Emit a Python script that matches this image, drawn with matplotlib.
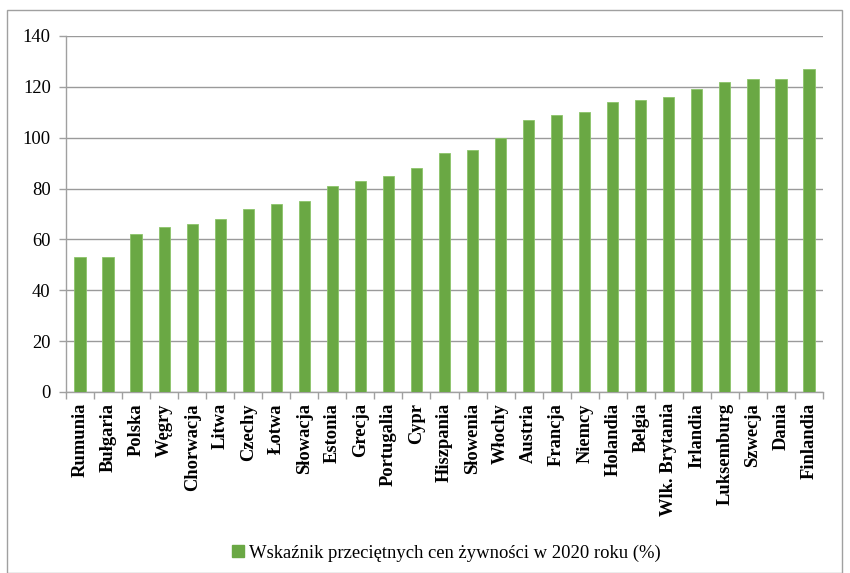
import matplotlib
matplotlib.use("Agg")
import matplotlib.pyplot as plt
from matplotlib.patches import Rectangle
import numpy as np

countries = ["Rumunia", "Bułgaria", "Polska", "Węgry", "Chorwacja", "Litwa", "Czechy",
             "Łotwa", "Słowacja", "Estonia", "Grecja", "Portugalia", "Cypr", "Hiszpania",
             "Słowenia", "Włochy", "Austria", "Francja", "Niemcy", "Holandia", "Belgia",
             "Wlk. Brytania", "Irlandia", "Luksemburg", "Szwecja", "Dania", "Finlandia"]
values = [53, 53, 62, 65, 66, 68, 72, 74, 75, 81, 83, 85, 88, 94, 95, 100, 107, 109,
          110, 114, 115, 116, 119, 122, 123, 123, 127]
series_name = "Wskaźnik przeciętnych cen żywności w 2020 roku (%)"
y_ticks = [0, 20, 40, 60, 80, 100, 120, 140]

plt.rcParams["font.family"] = ["Liberation Serif", "DejaVu Serif"]

W, H = 850, 573
fig = plt.figure(figsize=(W / 100, H / 100), dpi=100)

# outer chart frame
fig.patches.append(Rectangle((7 / W, 0), (842 - 7) / W, (H - 10) / H,
                             transform=fig.transFigure, fill=False,
                             edgecolor="#a0a0a0", linewidth=1.0))

ax = fig.add_axes([66 / W, (H - 392) / H, (823 - 66) / W, (392 - 36) / H])
x = np.arange(len(countries))
bar_color = "#6aa844"
ax.bar(x, values, width=0.4, color=bar_color, edgecolor="#8cc46a", linewidth=0.6,
       zorder=3, label=series_name)

ax.set_xlim(-0.5, len(countries) - 0.5)
ax.set_ylim(0, 140)
ax.set_yticks(y_ticks)
ax.set_yticklabels([str(v) for v in y_ticks], fontsize=13.3)
ax.yaxis.grid(True, color="#9a9a9a", linewidth=1.0, zorder=0)
ax.set_axisbelow(True)

ax.set_xticks(x)
ax.set_xticklabels(countries, rotation=90, fontsize=13.3, fontweight="bold")
ax.tick_params(axis="x", which="major", length=0, pad=8)
ax.set_xticks(np.arange(-0.5, len(countries), 1.0), minor=True)
ax.tick_params(axis="x", which="minor", length=5, color="#a0a0a0", width=1.0)
ax.tick_params(axis="y", length=5, color="#a0a0a0", width=1.0, pad=6)

for side in ["top", "right"]:
    ax.spines[side].set_visible(False)
for side in ["left", "bottom"]:
    ax.spines[side].set_color("#a0a0a0")
    ax.spines[side].set_linewidth(1.0)

fig.legend(handles=[Rectangle((0, 0), 1, 1, color=bar_color)], labels=[series_name],
           loc="center", bbox_to_anchor=(0.525, (H - 553) / H), frameon=False,
           fontsize=13.4, handlelength=0.65, handleheight=0.65, handletextpad=0.3)

fig.savefig("out.png", dpi=100)
